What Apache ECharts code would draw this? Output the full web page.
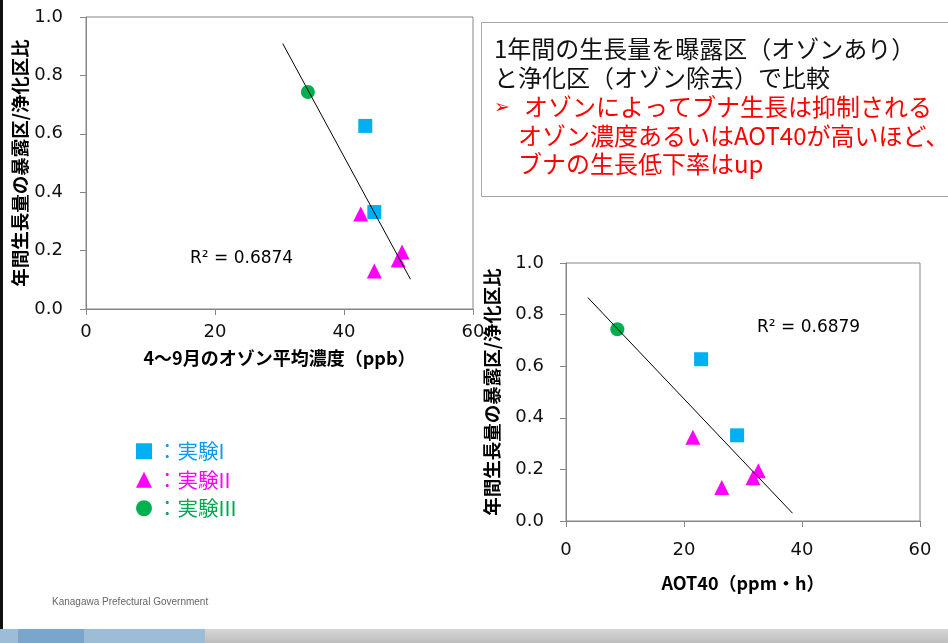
<!DOCTYPE html>
<html>
<head>
<meta charset="utf-8">
<title>オゾンとブナの生長</title>
<script src="https://cdn.jsdelivr.net/npm/echarts@6/dist/echarts.min.js"></script>
<style>
  html, body { margin: 0; padding: 0; background: #fff; }
  #chart { width: 948px; height: 643px; }
</style>
</head>
<body>
<div id="chart"></div>
<script>
// 生長量の比（暴露区/浄化区）
const ratioI = [0.627, 0.332];
const ratioII = [0.325, 0.13, 0.168, 0.195];
const ratioIII = [0.743];

// 4〜9月のオゾン平均濃度（ppb）
const ozoneI = [43.3, 44.7];
const ozoneII = [42.6, 44.7, 48.4, 49.0];
const ozoneIII = [34.4];

// AOT40（ppm・h）
const aotI = [22.9, 29.0];
const aotII = [21.5, 26.4, 31.7, 32.6];
const aotIII = [8.7];

// 近似直線の両端
const trendOzone = [[30.5, 0.909], [50.3, 0.102]];
const trendAot = [[3.7, 0.866], [38.4, 0.03]];

const xTicks = [0, 20, 40, 60];
const yTicks = [0, 0.2, 0.4, 0.6, 0.8, 1.0];

const names = ['実験I', '実験II', '実験III'];
const colors = ['#00b0f0', '#ff00ff', '#00b050'];
const textColors = ['#0a9bf0', '#ff00ff', '#00a850'];
const symbols = ['rect', 'triangle', 'circle'];
const sizes = [14, 15, 14];

const jp = '"Noto Sans CJK JP", sans-serif';
const num = '"DejaVu Sans", Verdana, sans-serif';

function zip(xs, ys) {
  return xs.map((x, i) => [x, ys[i]]);
}

function xAxis(gridIndex, name, labelMargin, nameGap) {
  return {
    type: 'value', gridIndex, min: xTicks[0], max: xTicks[xTicks.length - 1], interval: 20,
    name, nameLocation: 'middle', nameGap,
    nameTextStyle: { fontFamily: jp, fontWeight: 'bold', fontSize: 18, color: '#000' },
    axisLine: { show: true, lineStyle: { color: '#868686' } },
    axisTick: { show: true, length: 6, lineStyle: { color: '#868686' } },
    axisLabel: { fontFamily: num, fontSize: 18, color: '#111', margin: labelMargin },
    splitLine: { show: false }
  };
}

function yAxis(gridIndex, nameGap, labelMargin) {
  return {
    type: 'value', gridIndex, min: yTicks[0], max: yTicks[yTicks.length - 1], interval: 0.2,
    name: '年間生長量の暴露区/浄化区比', nameLocation: 'middle', nameGap,
    nameTextStyle: { fontFamily: jp, fontWeight: 'bold', fontSize: 18.5, color: '#000' },
    axisLine: { show: true, lineStyle: { color: '#868686' } },
    axisTick: { show: true, length: 6, lineStyle: { color: '#868686' } },
    axisLabel: { fontFamily: num, fontSize: 18, color: '#111', margin: labelMargin,
      formatter: v => v.toFixed(1) },
    splitLine: { show: false }
  };
}

function scatter(idx, name, data) {
  const k = names.indexOf(name);
  return {
    type: 'scatter', name, xAxisIndex: idx, yAxisIndex: idx, data,
    symbol: symbols[k], symbolSize: sizes[k],
    itemStyle: { color: colors[k], opacity: 1 }
  };
}

function trend(idx, data) {
  return {
    type: 'line', xAxisIndex: idx, yAxisIndex: idx, data,
    showSymbol: false, silent: true,
    lineStyle: { color: '#000', width: 1 }, z: 3
  };
}

const chart = echarts.init(document.getElementById('chart'), null, { renderer: 'canvas' });

chart.setOption({
  animation: false,
  backgroundColor: '#fff',
  grid: [
    { left: 86, top: 17, width: 387, height: 292, show: true, borderColor: '#868686', borderWidth: 1, backgroundColor: 'transparent' },
    { left: 566, top: 263, width: 354, height: 258, show: true, borderColor: '#868686', borderWidth: 1, backgroundColor: 'transparent' }
  ],
  xAxis: [
    xAxis(0, '4〜9月のオゾン平均濃度（ppb）', 14, 40),
    xAxis(1, 'AOT40（ppm・h）', 20, 53)
  ],
  yAxis: [yAxis(0, 57, 23), yAxis(1, 65, 22)],
  legend: {
    orient: 'vertical', left: 131, top: 436,
    itemWidth: 16, itemHeight: 16, itemGap: 8,
    formatter: '：{name}',
    data: names.map((n, i) => ({
      name: n, icon: symbols[i],
      itemStyle: { color: colors[i] },
      textStyle: { color: textColors[i], fontFamily: jp, fontSize: 20.5 }
    })),
    selectedMode: false
  },
  series: [
    trend(0, trendOzone),
    scatter(0, '実験I', zip(ozoneI, ratioI)),
    scatter(0, '実験II', zip(ozoneII, ratioII)),
    scatter(0, '実験III', zip(ozoneIII, ratioIII)),
    trend(1, trendAot),
    scatter(1, '実験I', zip(aotI, ratioI)),
    scatter(1, '実験II', zip(aotII, ratioII)),
    scatter(1, '実験III', zip(aotIII, ratioIII))
  ],
  graphic: [
    // 左端の黒い帯と下部のバー
    { type: 'rect', shape: { x: 0, y: 0, width: 3, height: 630 }, style: { fill: '#111' } },
    { type: 'rect', shape: { x: 0, y: 629, width: 948, height: 14 },
      style: { fill: new echarts.graphic.LinearGradient(0, 0, 0, 1, [
        { offset: 0, color: '#d6d6d6' }, { offset: 1, color: '#bdbdbd' }]) } },
    { type: 'rect', shape: { x: 0, y: 629, width: 205, height: 14 }, style: { fill: '#9dbdd6' } },
    { type: 'rect', shape: { x: 18, y: 629, width: 66, height: 14 }, style: { fill: '#7aa6cc' } },
    { type: 'text', left: 52, top: 597,
      style: { text: 'Kanagawa Prefectural Government', font: '10px "Liberation Sans", sans-serif', fill: '#666' } },
    // R²
    { type: 'text', x: 190, y: 259,
      style: { text: 'R² = 0.6874', font: '17px ' + num, fill: '#000', verticalAlign: 'middle' } },
    { type: 'text', x: 757, y: 328,
      style: { text: 'R² = 0.6879', font: '17px ' + num, fill: '#000', verticalAlign: 'middle' } },
    // 説明ボックス
    { type: 'rect', shape: { x: 481.5, y: 22.5, width: 520, height: 174 },
      style: { fill: '#fff', stroke: '#a6a6a6', lineWidth: 1 } },
    { type: 'text', x: 494, y: 49,
      style: { text: '1年間の生長量を曝露区（オゾンあり）', font: '24px ' + jp, fill: '#111', verticalAlign: 'middle' } },
    { type: 'text', x: 494, y: 78,
      style: { text: 'と浄化区（オゾン除去）で比較', font: '24px ' + jp, fill: '#111', verticalAlign: 'middle' } },
    { type: 'text', x: 494, y: 108,
      style: { text: '➢', font: 'bold 19px "DejaVu Sans", sans-serif', fill: '#ff0000', verticalAlign: 'middle' } },
    { type: 'text', x: 524, y: 107,
      style: { text: 'オゾンによってブナ生長は抑制される', font: '24px ' + jp, fill: '#ff0000', verticalAlign: 'middle' } },
    { type: 'text', x: 518, y: 136,
      style: { text: 'オゾン濃度あるいはAOT40が高いほど、', font: '24px ' + jp, fill: '#ff0000', verticalAlign: 'middle' } },
    { type: 'text', x: 518, y: 164,
      style: { text: 'ブナの生長低下率はup', font: '24px ' + jp, fill: '#ff0000', verticalAlign: 'middle' } }
  ]
});
</script>
</body>
</html>
